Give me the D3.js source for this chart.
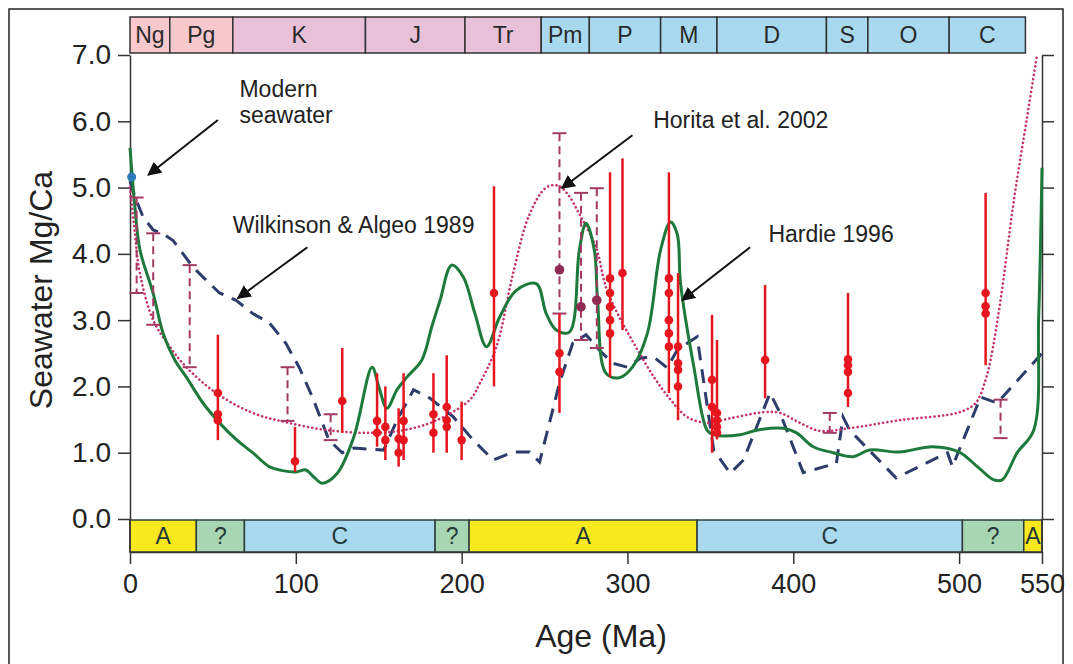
<!DOCTYPE html>
<html>
<head>
<meta charset="utf-8">
<script src="https://cdn.jsdelivr.net/npm/d3@7"></script>
<style>
  body { margin: 0; background: #fff; }
  svg { display: block; font-family: "Liberation Sans", Arial, sans-serif; }
</style>
</head>
<body>
<div id="chart"></div>
<script>
// ---- data (age in Ma, value = seawater Mg/Ca) ----
const periodNames = ["Ng", "Pg", "K", "J", "Tr", "Pm", "P", "M", "D", "S", "O", "C"];
const periodStart = [0, 24, 62, 142, 202, 248, 277, 320, 354, 420, 445, 494];
const periodEnd   = [24, 62, 142, 202, 248, 277, 320, 354, 420, 445, 494, 540];
const periodColors = ["#f8c8cd", "#f8c8cd", "#e8c0d8", "#e8c0d8", "#e8c0d8",
                      "#a9d9ef", "#a9d9ef", "#a9d9ef", "#a9d9ef", "#a9d9ef", "#a9d9ef", "#a9d9ef"];

const seaNames = ["A", "?", "C", "?", "A", "C", "?", "A"];
const seaStart = [0, 40, 69, 184, 204.5, 342, 502, 539];
const seaEnd   = [40, 69, 184, 204.5, 342, 502, 539, 550];
const seaColors = { "A": "#f7e91e", "?": "#a8d6b2", "C": "#a9d9ef" };

const yTicks = [0, 1, 2, 3, 4, 5, 6, 7];
const xTicks = [0, 100, 200, 300, 400, 500, 550];

// Hardie 1996 (green solid)
const hardieAge = [0, 3, 6, 14, 20, 27, 34, 44, 54, 64, 74, 84, 92, 100, 106, 111, 116, 125, 135, 146,
  150, 155, 161, 167, 176, 182, 187, 194, 201, 208, 215, 223, 233, 245, 251, 257, 265, 271, 275, 280,
  282, 287, 295, 303, 312, 320, 326, 330, 332, 340, 348, 352, 368, 378, 394, 402, 412, 424, 436, 446,
  464, 484, 500, 511, 521, 526, 535, 545, 548, 550];
const hardieVal = [5.6, 4.7, 4.06, 3.4, 2.8, 2.4, 2.14, 1.75, 1.45, 1.2, 1.0, 0.79, 0.73, 0.71, 0.74, 0.63, 0.54, 0.69, 1.24, 2.29,
  2.0, 1.67, 1.95, 2.14, 2.4, 2.9, 3.3, 3.83, 3.65, 3.1, 2.6, 3.05, 3.45, 3.55, 3.1, 2.85, 2.82, 4.06, 4.46, 4.06,
  3.3, 2.2, 2.13, 2.29, 2.8, 4.06, 4.48, 4.3, 3.56, 2.3, 1.34, 1.27, 1.27, 1.34, 1.37, 1.3, 1.09, 1.0, 0.94, 1.04,
  1.01, 1.09, 1.01, 0.79, 0.59, 0.59, 1.0, 1.34, 3.05, 5.3];

// Wilkinson & Algeo 1989 (navy dashed)
const wilkAge = [0, 3, 8, 14, 20, 26, 32, 38, 46, 54, 64, 74, 84, 94, 102, 110, 120, 128, 135, 153,
  161, 171, 181, 195, 207, 219, 231, 241, 247, 259, 267, 275, 283, 291, 300, 308, 316, 324, 330, 342,
  352, 362, 370, 386, 392, 406, 426, 430, 434, 462, 493, 496, 513, 523, 550];
const wilkVal = [5.1, 4.86, 4.55, 4.36, 4.3, 4.2, 4.0, 3.8, 3.6, 3.41, 3.3, 3.1, 2.96, 2.65, 2.29, 1.84, 1.19, 1.0, 1.07, 1.04,
  1.49, 1.95, 1.82, 1.54, 1.19, 0.89, 1.01, 1.01, 0.86, 2.05, 2.65, 2.78, 2.55, 2.35, 2.29, 2.43, 2.44, 2.28, 2.55, 2.75,
  1.04, 0.69, 0.89, 1.9, 1.6, 0.7, 0.84, 1.54, 1.34, 0.62, 1.0, 0.79, 1.84, 1.75, 2.5];

// Horita et al. 2002 (pink dotted)
const horitaAge = [0, 3, 6, 14, 24, 34, 52, 74, 94, 119, 145, 165, 185, 205, 211, 221, 231, 241, 251, 258,
  264, 271, 281, 287, 295, 305, 316, 326, 336, 348, 362, 382, 392, 404, 416, 434, 464, 500, 510, 516,
  519, 525, 533, 541, 547];
const horitaVal = [5.0, 4.3, 3.7, 3.0, 2.6, 2.29, 1.9, 1.6, 1.46, 1.34, 1.3, 1.34, 1.49, 1.8, 2.05, 2.6, 3.7, 4.6, 5.0, 5.03,
  4.9, 4.6, 4.1, 3.5, 3.05, 2.6, 2.14, 1.8, 1.54, 1.45, 1.52, 1.61, 1.6, 1.45, 1.33, 1.37, 1.49, 1.61, 1.75, 2.1,
  2.4, 3.3, 4.8, 6.06, 7.0];

// red solid error bars with data points
const redAge  = [53, 99.5, 128, 149, 154, 162, 165, 183, 191, 200, 219.5, 259, 289.5, 297, 325, 330.5, 351, 354, 383, 433, 516];
const redLow  = [1.19, 0.71, 1.3, 1.09, 0.89, 0.79, 0.89, 1.0, 1.0, 0.89, 2.0, 1.6, 2.14, 2.85, 1.9, 1.49, 1.0, 1.2, 1.82, 1.69, 2.32];
const redHigh = [2.78, 1.39, 2.58, 2.2, 2.0, 1.67, 2.2, 2.2, 2.47, 1.77, 5.02, 3.1, 5.23, 5.44, 5.23, 3.71, 3.08, 2.7, 3.53, 3.41, 4.92];
const redDots = [[1.9, 1.58, 1.49], [0.87], [1.78], [1.48, 1.3], [1.39, 1.19], [1.21, 1.0], [1.48, 1.19],
  [1.58, 1.3], [1.69, 1.49, 1.39], [1.19], [3.41], [2.5, 2.22], [3.63, 3.41, 3.2, 3.0, 2.8], [3.71],
  [3.63, 3.41, 3.0, 2.8, 2.6], [2.6, 2.35, 2.25, 2.0], [2.1, 1.69], [1.6, 1.49, 1.39, 1.3], [2.4],
  [2.41, 2.32, 2.22, 1.9], [3.41, 3.21, 3.1]];

// dashed dark-red ranges
const rangeAge  = [4, 14, 36, 95, 121, 259, 272, 281.5, 422, 525];
const rangeLow  = [3.41, 2.93, 2.29, 1.48, 1.19, 3.1, 2.7, 2.58, 1.3, 1.22];
const rangeHigh = [4.85, 4.31, 3.83, 2.29, 1.58, 5.82, 4.92, 4.99, 1.6, 1.8];
const rangeDot  = [null, null, null, null, null, 3.76, 3.2, 3.3, null, null];

const modernAge = 1, modernVal = 5.16;

// annotations: text anchor and arrow (from -> to) in data units
const notes = [
  { lines: ["Modern", "seawater"], age: 66, val: 6.36, from: [53, 6.02], to: [11, 5.19] },
  { lines: ["Wilkinson & Algeo 1989"], age: 62, val: 4.31, from: [107, 4.1], to: [65, 3.33] },
  { lines: ["Horita et al. 2002"], age: 315.5, val: 5.9, from: [303, 5.79], to: [260.5, 4.99] },
  { lines: ["Hardie 1996"], age: 385, val: 4.18, from: [374, 4.1], to: [333, 3.3] }
];

// ---- chart ----
const W = 1073, H = 664;
const svg = d3.select("#chart").append("svg").attr("width", W).attr("height", H);

const x = d3.scaleLinear().domain([0, 550]).range([130, 1042]);
const y = d3.scaleLinear().domain([0, 7]).range([519, 55]);

// outer frame
svg.append("rect").attr("x", 9).attr("y", 9).attr("width", 1054).attr("height", 700)
  .attr("fill", "none").attr("stroke", "#222").attr("stroke-width", 1.5);

// top period band
const bandTop = 17, bandBot = 53;
const per = svg.append("g");
periodNames.forEach((n, i) => {
  per.append("rect")
    .attr("x", x(periodStart[i])).attr("y", bandTop)
    .attr("width", x(periodEnd[i]) - x(periodStart[i])).attr("height", bandBot - bandTop)
    .attr("fill", periodColors[i]).attr("stroke", "#333").attr("stroke-width", 1.5);
  per.append("text")
    .attr("x", (x(periodStart[i]) + x(periodEnd[i])) / 2).attr("y", (bandTop + bandBot) / 2)
    .attr("dy", "0.36em").attr("text-anchor", "middle")
    .style("font-size", "23px").attr("fill", "#2a2a2a").text(n);
});

// bottom mineralogy band
const mTop = 520, mBot = 552;
const min = svg.append("g");
seaNames.forEach((n, i) => {
  min.append("rect")
    .attr("x", x(seaStart[i])).attr("y", mTop)
    .attr("width", x(seaEnd[i]) - x(seaStart[i])).attr("height", mBot - mTop)
    .attr("fill", seaColors[n]).attr("stroke", "#2f3f3f").attr("stroke-width", 1.5);
  min.append("text")
    .attr("x", (x(seaStart[i]) + x(seaEnd[i])) / 2).attr("y", (mTop + mBot) / 2)
    .attr("dy", "0.36em").attr("text-anchor", "middle")
    .style("font-size", "23px").attr("fill", "#243838").text(n);
});

// axes
const yAxisL = svg.append("g").attr("transform", "translate(130,0)")
  .call(d3.axisLeft(y).tickValues(yTicks).tickFormat(d3.format(".1f")).tickSize(12).tickPadding(7).tickSizeOuter(0));
const yAxisR = svg.append("g").attr("transform", "translate(1042,0)")
  .call(d3.axisRight(y).tickValues(yTicks).tickFormat("").tickSize(12).tickSizeOuter(0));
const xAxis = svg.append("g").attr("transform", `translate(0,${mBot})`)
  .call(d3.axisBottom(x).tickValues(xTicks).tickSize(12).tickPadding(10).tickSizeOuter(0));

[yAxisL, yAxisR, xAxis].forEach(g => {
  g.selectAll("path, line").attr("stroke", "#333").attr("stroke-width", 1.5);
  g.selectAll("text").attr("fill", "#222").style("font-family", '"Liberation Sans", Arial, sans-serif');
});
yAxisL.selectAll("text").style("font-size", "28px");
xAxis.selectAll("text").style("font-size", "27px");
// vertical axis lines continue through the bottom band
svg.append("line").attr("x1", 130).attr("x2", 130).attr("y1", y(0)).attr("y2", mBot)
  .attr("stroke", "#333").attr("stroke-width", 1.5);
svg.append("line").attr("x1", 1042).attr("x2", 1042).attr("y1", y(0)).attr("y2", mBot)
  .attr("stroke", "#333").attr("stroke-width", 1.5);

// axis titles
svg.append("text").attr("transform", "translate(52,290) rotate(-90)")
  .attr("text-anchor", "middle").style("font-size", "32px").attr("fill", "#222").text("Seawater Mg/Ca");
svg.append("text").attr("x", 601).attr("y", 647)
  .attr("text-anchor", "middle").style("font-size", "32px").attr("fill", "#222").text("Age (Ma)");

// curves
const zip = (a, b) => a.map((d, i) => [d, b[i]]);
const lineLin = d3.line().x(d => x(d[0])).y(d => y(d[1]));
const lineSmooth = d3.line().x(d => x(d[0])).y(d => y(d[1])).curve(d3.curveCatmullRom.alpha(0.5));

svg.append("path").datum(zip(wilkAge, wilkVal)).attr("d", lineLin)
  .attr("fill", "none").attr("stroke", "#2c3d6b").attr("stroke-width", 3)
  .attr("stroke-dasharray", "14,9");

svg.append("path").datum(zip(horitaAge, horitaVal)).attr("d", lineSmooth)
  .attr("fill", "none").attr("stroke", "#c4336d").attr("stroke-width", 2.6)
  .attr("stroke-linecap", "round").attr("stroke-dasharray", "0.1,4.2");

svg.append("path").datum(zip(hardieAge, hardieVal)).attr("d", lineSmooth)
  .attr("fill", "none").attr("stroke", "#1d7a3b").attr("stroke-width", 3)
  .attr("stroke-linejoin", "round");

// dashed ranges
const rng = svg.append("g");
rangeAge.forEach((a, i) => {
  const cx = x(a);
  rng.append("line").attr("x1", cx).attr("x2", cx).attr("y1", y(rangeHigh[i])).attr("y2", y(rangeLow[i]))
    .attr("stroke", "#a23a63").attr("stroke-width", 2).attr("stroke-dasharray", "8,5");
  [rangeHigh[i], rangeLow[i]].forEach(v => {
    rng.append("line").attr("x1", cx - 7).attr("x2", cx + 7).attr("y1", y(v)).attr("y2", y(v))
      .attr("stroke", "#a23a63").attr("stroke-width", 2);
  });
  if (rangeDot[i] != null) {
    rng.append("circle").attr("cx", cx).attr("cy", y(rangeDot[i])).attr("r", 4.8).attr("fill", "#8f2a55");
  }
});

// red solid bars
const red = svg.append("g");
redAge.forEach((a, i) => {
  const cx = x(a);
  red.append("line").attr("x1", cx).attr("x2", cx).attr("y1", y(redHigh[i])).attr("y2", y(redLow[i]))
    .attr("stroke", "#e6161f").attr("stroke-width", 2.5);
  redDots[i].forEach(v => {
    red.append("circle").attr("cx", cx).attr("cy", y(v)).attr("r", 4.3).attr("fill", "#e6161f");
  });
});

// modern seawater
svg.append("circle").attr("cx", x(modernAge)).attr("cy", y(modernVal)).attr("r", 4.5).attr("fill", "#2b7bb9");

// annotations
svg.append("defs").append("marker").attr("id", "arr")
  .attr("viewBox", "0 0 10 10").attr("refX", 9).attr("refY", 5)
  .attr("markerWidth", 7).attr("markerHeight", 7).attr("markerUnits", "strokeWidth")
  .attr("orient", "auto")
  .append("path").attr("d", "M0,0 L10,5 L0,10 z").attr("fill", "#111");

const ann = svg.append("g");
notes.forEach(n => {
  const t = ann.append("text").attr("x", x(n.age)).attr("y", y(n.val))
    .style("font-size", "23px").attr("fill", "#222");
  n.lines.forEach((l, j) => {
    t.append("tspan").attr("x", x(n.age)).attr("dy", j === 0 ? 0 : "1.12em").text(l);
  });
  ann.append("line")
    .attr("x1", x(n.from[0])).attr("y1", y(n.from[1]))
    .attr("x2", x(n.to[0])).attr("y2", y(n.to[1]))
    .attr("stroke", "#111").attr("stroke-width", 2).attr("marker-end", "url(#arr)");
});
</script>
</body>
</html>
